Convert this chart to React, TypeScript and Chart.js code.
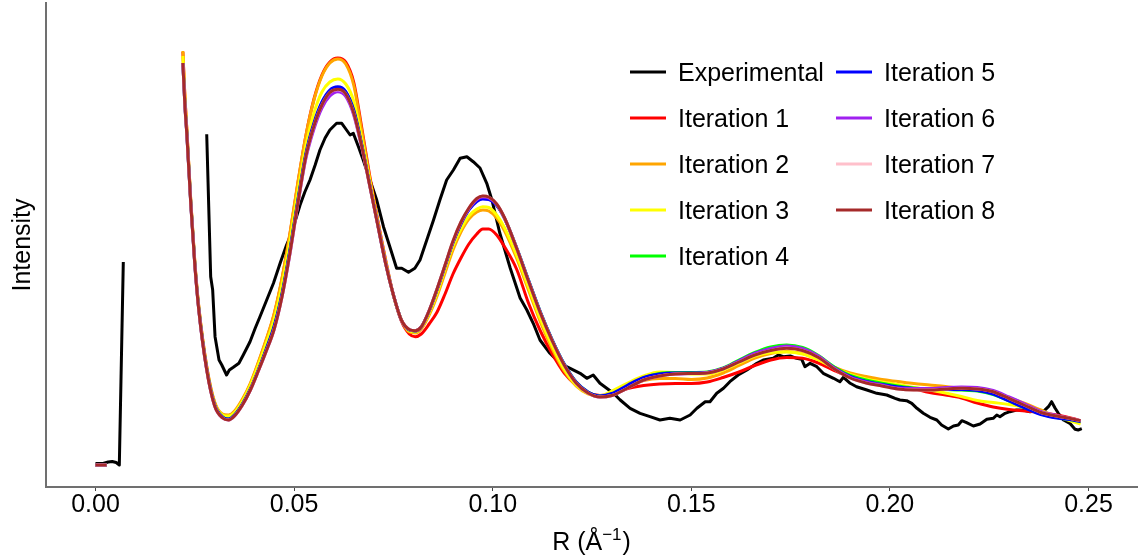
import React, { useEffect, useRef } from "react";
import { Chart, registerables } from "chart.js";

Chart.register(...registerables);

const FONT = '"Liberation Sans", Arial, Helvetica, sans-serif';

// ---- labels / styles of series ----
const seriesNames = [
  "Experimental",
  "Iteration 1",
  "Iteration 2",
  "Iteration 3",
  "Iteration 4",
  "Iteration 5",
  "Iteration 6",
  "Iteration 7",
  "Iteration 8",
];
const seriesColors = [
  "#000000",
  "#FF0000",
  "#FFA500",
  "#FFFF00",
  "#00FF00",
  "#0000FF",
  "#A020F0",
  "#FFC0CB",
  "#A52A2A",
];

const xTickValues = [0, 0.05, 0.1, 0.15, 0.2, 0.25];
const xTitleMain = "R (Å";
const xTitleSup = "−1";
const xTitleEnd = ")";
const yTitle = "Intensity";

// ---- experimental curve (R in 1/Å, intensity arb. units; null = gap) ----
const expR = [
  0.0, 0.0019, 0.0032, 0.0042, 0.0052, 0.006, 0.007, 0.0175,
  0.028, 0.029, 0.0295, 0.0301, 0.0311, 0.0318, 0.033, 0.0337, 0.0347, 0.0361,
  0.0372, 0.0389, 0.0402, 0.0414, 0.0431, 0.0448, 0.0465, 0.0481, 0.049, 0.0502,
  0.0515, 0.0527, 0.054, 0.0553, 0.0565, 0.0578, 0.059, 0.0607, 0.062, 0.0632,
  0.0641, 0.0649, 0.0662, 0.0674, 0.0691, 0.0708, 0.0725, 0.0741, 0.0758, 0.0771,
  0.0788, 0.0804, 0.0817, 0.0834, 0.0851, 0.0867, 0.0884, 0.0901, 0.0918, 0.0935,
  0.0951, 0.0968, 0.0985, 0.0998, 0.1018, 0.1044, 0.1069, 0.1086, 0.1102, 0.1119,
  0.1144, 0.1169, 0.1195, 0.122, 0.1237, 0.1253, 0.127, 0.1287, 0.1304, 0.1321,
  0.1346, 0.1371, 0.1396, 0.1421, 0.1446, 0.1472, 0.1497, 0.1514, 0.1535, 0.1547,
  0.1564, 0.1581, 0.1597, 0.1618, 0.164, 0.1665, 0.1681, 0.1706, 0.1719, 0.1732,
  0.1749, 0.1765, 0.1778, 0.1786, 0.1799, 0.1816, 0.1832, 0.1858, 0.1874, 0.1883,
  0.19, 0.1916, 0.1942, 0.1967, 0.1992, 0.2013, 0.2025, 0.2042, 0.2055, 0.2068,
  0.2084, 0.2101, 0.2118, 0.213, 0.2147, 0.216, 0.2172, 0.2181, 0.2193, 0.221,
  0.2227, 0.2244, 0.226, 0.2269, 0.2277, 0.229, 0.2302, 0.2319, 0.2336, 0.2353,
  0.237, 0.2386, 0.2399, 0.2407, 0.2416, 0.2424, 0.2437, 0.2453, 0.2466, 0.2474,
  0.2483,
];
const expI = [
  1.5, 1.5, 3, 3.5, 2.5, 0, 203, null,
  330.7, 188.3, 175, 128.3, 105, 100, 90, 95, 97.7, 101.7,
  110, 123.3, 136.7, 148.3, 165, 181.7, 202, 220, 228.3, 243,
  260, 273, 285, 300, 315, 327, 335, 341.7, 341.7, 335,
  330, 331.7, 318.3, 305, 285, 265, 238.3, 218.3, 196.7, 196.7,
  192.7, 196.7, 205, 225, 245, 265, 285, 295, 306.7, 308.3,
  303.3, 297, 281.7, 265, 231.7, 197, 167, 155, 141.7, 125,
  111.7, 101.7, 96.7, 91.7, 86.7, 90, 81.7, 76.7, 71.7, 65,
  56.7, 51.7, 48.3, 45, 46.7, 45, 50, 56.7, 63.3, 63.3,
  71.7, 76.7, 83.3, 90, 95, 101.7, 105, 106.7, 110, 108.3,
  109, 106.7, 105.7, 98.3, 101.7, 98.3, 91.7, 86.7, 83.3, 87.7,
  81.7, 78.3, 75, 71.7, 70, 66.7, 65, 64.3, 61.7, 56.7,
  51.7, 47.7, 45, 40, 36, 39, 40, 44.3, 42.3, 39,
  41, 45.7, 46.7, 50, 48.3, 51.7, 53.3, 55, 55, 53.3,
  55, 53.3, 58.3, 63.3, 56.7, 51.7, 45, 41.7, 35.7, 35,
  36.3,
];

// ---- model curves: short stub at low R, gap, then the fitted range ----
const stubR = [0.0, 0.0028, 0.012];
const stubI = [0, 0, null];

const modelR = [
  0.022, 0.0225, 0.023, 0.024, 0.025, 0.026, 0.028, 0.03, 0.032, 0.0335,
  0.035, 0.037, 0.039, 0.041, 0.043, 0.045, 0.047, 0.049, 0.051, 0.053,
  0.055, 0.057, 0.059, 0.061, 0.063, 0.065, 0.067, 0.069, 0.071, 0.073,
  0.075, 0.077, 0.079, 0.0805, 0.082, 0.084, 0.086, 0.088, 0.09, 0.092,
  0.094, 0.096, 0.0975, 0.099, 0.101, 0.103, 0.106, 0.109, 0.112, 0.115,
  0.118, 0.121, 0.124, 0.127, 0.13, 0.134, 0.138, 0.142, 0.146, 0.15,
  0.154, 0.158, 0.162, 0.166, 0.17, 0.174, 0.178, 0.182, 0.186, 0.19,
  0.194, 0.198, 0.202, 0.206, 0.21, 0.214, 0.218, 0.222, 0.226, 0.23,
  0.234, 0.238, 0.242, 0.246, 0.248,
];

const iter1 = [
  413, 369, 335, 263, 203, 158, 98, 62, 50, 49.5,
  53, 65, 81, 102, 125, 151, 187, 232, 283, 330,
  366, 390, 403, 407, 403, 383, 338, 290, 246, 206,
  170, 144, 131, 128.3, 131, 141, 153, 171, 191, 207,
  221, 231, 236, 236, 230, 218, 196, 162, 134, 111,
  92, 80, 72.5, 69.5, 71, 76.5, 79.5, 81, 81.5, 81.5,
  83, 87.5, 93, 99.5, 105, 107.5, 106.7, 102, 94.5, 88.3,
  85.2, 83, 80, 76.5, 72.5, 70, 67, 62, 58, 55.5,
  54, 52.5, 50, 46.5, 44.3,
];
const iter2 = [
  414, 370, 336, 264, 204, 159, 99, 63, 51, 50,
  54, 66, 82, 103, 126, 152, 188, 233, 284, 330,
  365, 389, 402, 406, 401, 380, 335, 288, 245, 205,
  170, 145, 133, 132, 136, 150, 169, 192, 215, 233,
  246, 253, 255, 254, 247, 234, 207, 175, 143, 116,
  94, 79, 71, 68.5, 71, 79, 84.5, 86.5, 86.5, 85.5,
  87, 92, 99.5, 107, 111.5, 113.5, 111.5, 106, 98, 92,
  88.5, 85.5, 83.5, 81.5, 80, 78.5, 76.5, 75, 71.5, 67,
  61.5, 55, 48.5, 45, 43.3,
];
const iter3 = [
  409, 365, 333, 262, 202, 157, 97, 61, 50, 49,
  52.5, 64, 80, 100, 122, 146, 181, 225, 275, 320,
  352, 373, 383, 386, 381, 364, 327, 285, 243, 204,
  169.5, 145.5, 134, 133, 137.5, 152, 172, 196, 219, 236,
  249, 256, 258.3, 257.5, 250, 237, 210, 178, 146, 119,
  96, 80, 71.5, 69, 74, 82, 89, 93, 92.5, 91,
  91, 95, 102, 109, 112.5, 113, 111, 105, 97, 90.5,
  86, 83, 80.5, 77.5, 75, 72, 68.5, 64.5, 62.5, 60.5,
  57.5, 53.5, 48.5, 43.5, 41,
];
const iter4 = [
  402, 361, 331, 261, 201, 156, 96, 60, 48, 46,
  50, 61, 76, 95, 116, 139, 172, 216, 266, 311,
  341, 362, 374, 377.5, 373, 354.5, 320.5, 281, 241.5, 202.5,
  170, 145, 135, 134, 138, 154, 175.5, 199, 222.5, 241.5,
  255.5, 264.5, 267, 266.5, 260, 246.5, 217.5, 185, 153, 125,
  101, 83, 73, 69, 71, 79, 87, 91.5, 92.5, 92.5,
  93, 97, 105, 112.5, 118, 120, 117.5, 109.5, 98, 89.5,
  85, 81.7, 79, 77, 76, 75.5, 75, 74, 70.5, 64,
  57, 51, 47.5, 45, 43.5,
];
const iter5 = [
  402, 361, 331, 261, 201, 156, 96, 60, 48, 46,
  50, 61, 76, 95, 116, 139, 172, 216, 266, 312,
  342, 363, 375, 378.3, 373.5, 355, 321, 281, 241.5, 202.5,
  170, 145, 135, 134, 138, 154, 175.5, 199, 222.5, 241,
  255, 263.5, 266, 265.5, 259.5, 246.5, 217.5, 185, 153, 125,
  101, 83, 73, 69, 71.5, 80, 87.5, 91, 92, 92,
  92.5, 96.5, 104, 111.5, 116, 118, 115.5, 108, 97, 88.5,
  83.5, 80.5, 78, 76.5, 75.5, 75.5, 75.5, 74.5, 71, 64,
  57, 50.5, 47, 45, 43.3,
];
const iter6 = [
  402, 360, 330, 260, 200, 155, 95, 59, 47, 45,
  49, 60, 75, 94, 114, 136, 169, 212, 262, 307,
  336, 357, 369, 373.3, 368.5, 350, 318, 280, 241, 202,
  170, 145, 135.5, 134.3, 138, 154.5, 176, 199.5, 223, 242,
  256, 265.5, 268, 267, 260.5, 246.5, 217, 184, 152, 124,
  100, 82, 72, 68, 69.5, 77, 85, 89, 91, 91.5,
  92.5, 96.5, 104, 111.5, 116.5, 119, 116.5, 109, 97, 88,
  83, 80, 77, 76.5, 76.5, 77.5, 78, 77.5, 74.5, 68,
  61, 53.5, 49.5, 46, 44.3,
];
const iter7 = [
  402, 360, 330, 260, 200, 155, 95, 59, 47, 45,
  49, 60, 75, 94, 114, 136, 169, 213, 263, 309,
  339, 360, 372.5, 375.2, 371, 352, 319, 280, 241, 202,
  170, 145, 135.5, 134.3, 138, 154.5, 176.3, 200, 224, 243,
  257, 266.5, 269, 268, 261, 247, 217, 184, 152, 124,
  100, 82, 72, 68, 69.5, 77, 85, 89, 91, 91.5,
  92, 96, 103, 110, 114.5, 117, 114.5, 107.5, 96, 87,
  82, 79, 76, 75, 75, 76, 76.7, 76, 73.3, 66.5,
  59.5, 52.5, 49, 46, 44.3,
];
const iter8 = [
  402, 360, 330, 260, 200, 155, 95, 59, 47, 45,
  49, 60, 75, 94, 114, 136, 169, 213, 263, 309,
  339, 360, 372.5, 375.7, 371, 352, 319, 280, 241, 202,
  170, 145, 135.5, 134.3, 138, 154.5, 176.3, 200, 224, 243,
  257, 266.5, 269, 268, 261, 247, 217, 184, 152, 124,
  100, 82, 72, 68, 69.5, 77, 85, 89, 91, 91.5,
  92, 96, 103, 110, 114.5, 116.7, 114.5, 107.5, 96, 87,
  82, 79, 76, 75, 75, 76, 76.7, 76, 73.3, 66.5,
  59.5, 52.5, 49, 46, 44.3,
];

const modelSeries = [iter1, iter2, iter3, iter4, iter5, iter6, iter7, iter8];

// axis ranges
const xMin = -0.01246;
const xMax = 0.2622;
const yMin = -22;
const yMax = 462;

function toPoints(xs: number[], ys: (number | null)[]) {
  return xs.map((x, i) => ({ x, y: ys[i] === undefined ? null : ys[i] }));
}

const decorPlugin = {
  id: "decor",
  afterDraw(chart: any) {
    const { ctx, chartArea } = chart;
    // y title
    ctx.save();
    ctx.fillStyle = "#000";
    ctx.font = `25px ${FONT}`;
    ctx.textAlign = "center";
    ctx.textBaseline = "alphabetic";
    ctx.translate(30, (chartArea.top + chartArea.bottom) / 2);
    ctx.rotate(-Math.PI / 2);
    ctx.fillText(yTitle, 0, 0);
    ctx.restore();

    // x title with superscript
    ctx.save();
    ctx.fillStyle = "#000";
    ctx.textBaseline = "alphabetic";
    ctx.textAlign = "left";
    const big = `25px ${FONT}`;
    const small = `17px ${FONT}`;
    ctx.font = big;
    const w1 = ctx.measureText(xTitleMain).width;
    const w3 = ctx.measureText(xTitleEnd).width;
    ctx.font = small;
    const w2 = ctx.measureText(xTitleSup).width;
    const total = w1 + w2 + 1 + w3;
    const cx = (chartArea.left + chartArea.right) / 2;
    const by = 550;
    let x = cx - total / 2;
    ctx.font = big;
    ctx.fillText(xTitleMain, x, by);
    x += w1;
    ctx.font = small;
    ctx.fillText(xTitleSup, x, by - 10);
    x += w2 + 1;
    ctx.font = big;
    ctx.fillText(xTitleEnd, x, by);
    ctx.restore();

    // legend (two columns, column-major)
    ctx.save();
    ctx.font = `25px ${FONT}`;
    ctx.textAlign = "left";
    ctx.textBaseline = "alphabetic";
    const colX = [630, 836];
    const rowY0 = 72;
    const dy = 46;
    const perCol = 5;
    seriesNames.forEach((name, i) => {
      const col = Math.floor(i / perCol);
      const row = i % perCol;
      const lx = colX[col];
      const ly = rowY0 + row * dy;
      ctx.strokeStyle = seriesColors[i];
      ctx.lineWidth = 3;
      ctx.beginPath();
      ctx.moveTo(lx, ly);
      ctx.lineTo(lx + 36, ly);
      ctx.stroke();
      ctx.fillStyle = "#000";
      ctx.fillText(name, lx + 48, ly + 9);
    });
    ctx.restore();
  },
};

export default function App() {
  const ref = useRef<HTMLCanvasElement>(null);

  useEffect(() => {
    const canvas = ref.current;
    if (!canvas) return;
    const datasets = seriesNames.map((name, i) => {
      const data =
        i === 0
          ? toPoints(expR, expI)
          : [...toPoints(stubR, stubI), ...toPoints(modelR, modelSeries[i - 1])];
      return {
        label: name,
        data,
        borderColor: seriesColors[i],
        backgroundColor: seriesColors[i],
        borderWidth: 3,
        pointRadius: 0,
        pointHoverRadius: 0,
        fill: false,
        tension: 0,
        cubicInterpolationMode: i === 0 ? "default" : "monotone",
        borderJoinStyle: "round",
        spanGaps: false,
        order: seriesNames.length - i,
      };
    });

    const chart = new Chart(canvas, {
      type: "line",
      data: { datasets } as any,
      options: {
        responsive: false,
        animation: false,
        devicePixelRatio: 1,
        parsing: true,
        layout: { padding: { top: 3, right: 4, left: 0, bottom: 0 } },
        plugins: {
          legend: { display: false },
          tooltip: { enabled: false },
        },
        scales: {
          x: {
            type: "linear",
            min: xMin,
            max: xMax,
            afterBuildTicks: (scale: any) => {
              scale.ticks = xTickValues.map((v) => ({ value: v }));
            },
            afterFit: (scale: any) => {
              scale.height = 72;
            },
            ticks: {
              autoSkip: false,
              maxRotation: 0,
              minRotation: 0,
              padding: 2,
              color: "#000",
              font: { family: FONT, size: 25, lineHeight: 1 },
              callback: (v: any) => Number(v).toFixed(2),
            },
            grid: {
              display: true,
              drawOnChartArea: false,
              drawTicks: true,
              tickLength: 4,
              color: "#444",
              lineWidth: 1,
            },
            border: { display: true, color: "#707070", width: 2 },
          },
          y: {
            type: "linear",
            min: yMin,
            max: yMax,
            afterFit: (scale: any) => {
              scale.width = 46;
            },
            ticks: { display: false },
            grid: { display: false, drawTicks: false },
            border: { display: true, color: "#707070", width: 2 },
          },
        },
      } as any,
      plugins: [decorPlugin],
    });
    return () => chart.destroy();
  }, []);

  return (
    <div
      style={{
        position: "fixed",
        left: 0,
        top: 0,
        width: 1141,
        height: 559,
        background: "#ffffff",
      }}
    >
      <canvas ref={ref} width={1141} height={559} style={{ width: 1141, height: 559 }} />
    </div>
  );
}
